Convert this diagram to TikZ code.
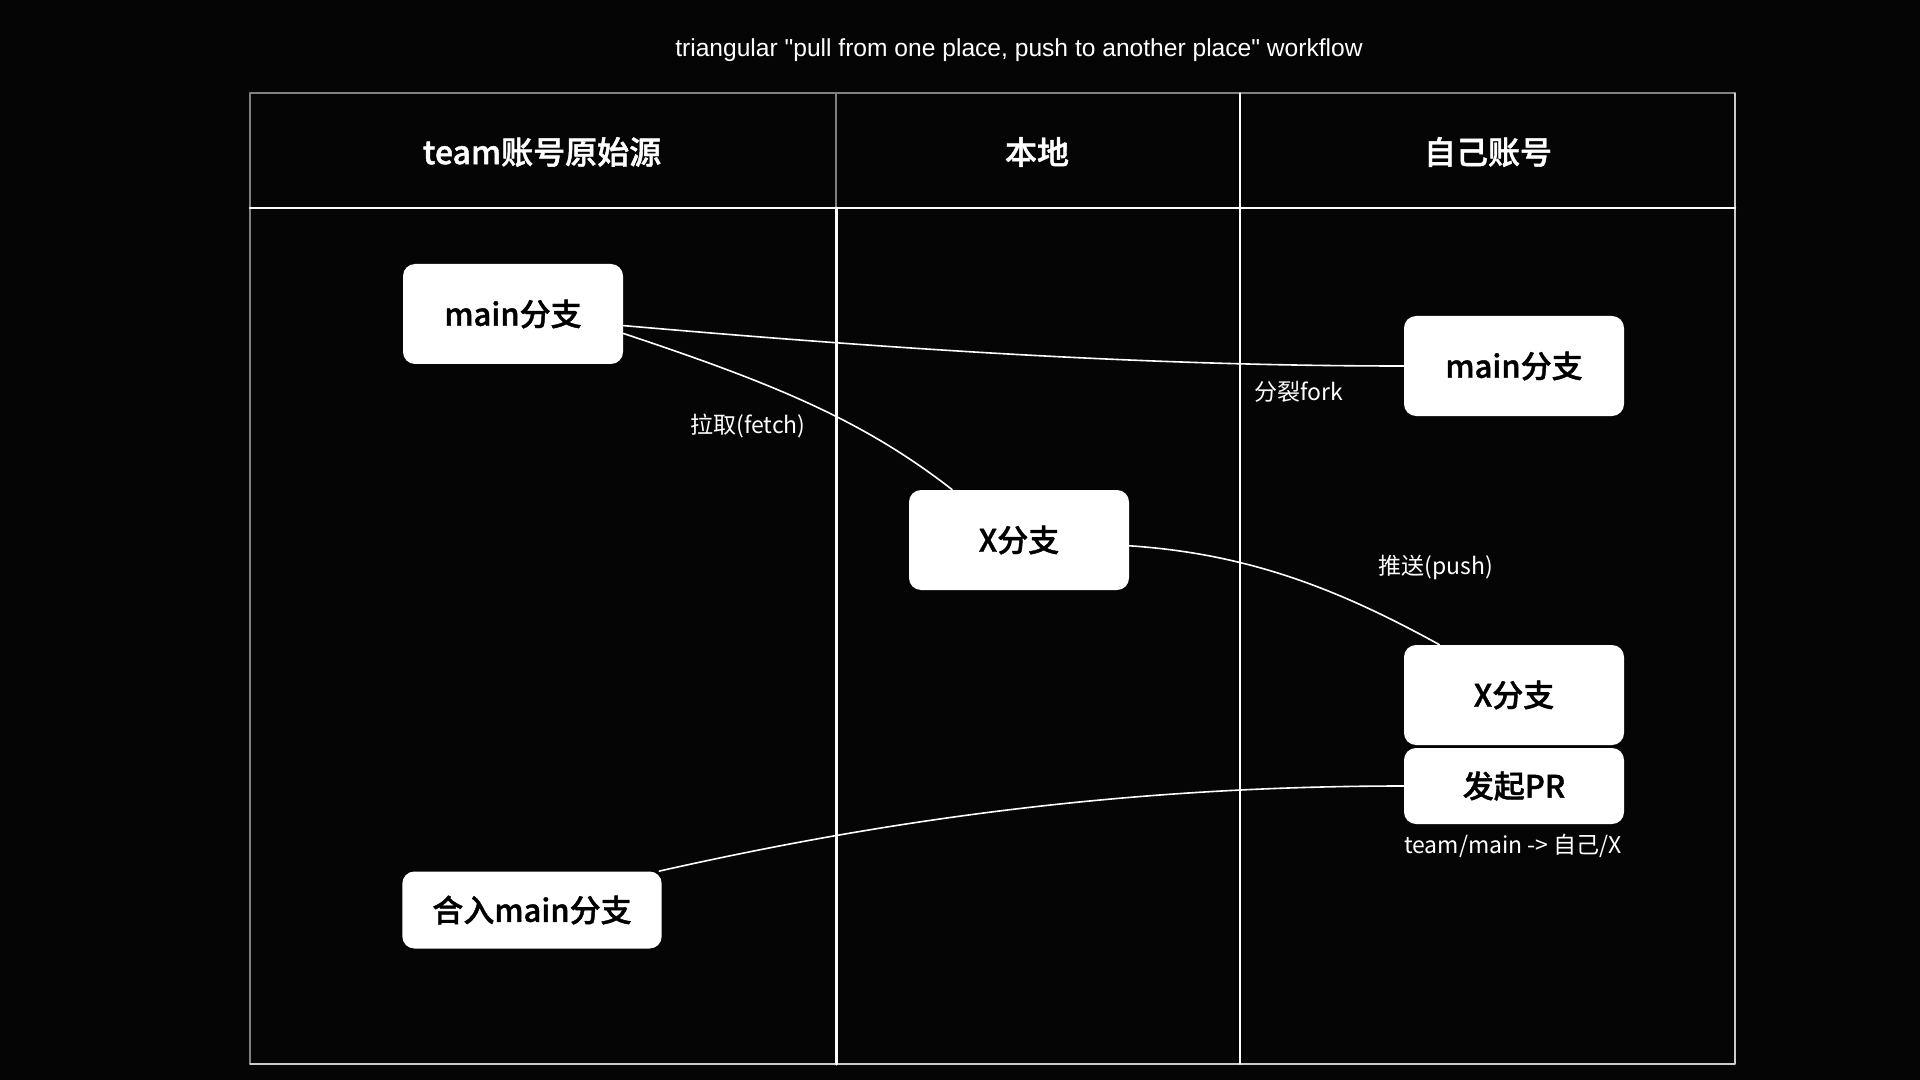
\documentclass[tikz,border=0pt]{standalone}
\usepackage{fontspec}
\setmainfont{Noto Sans CJK SC}
\newfontfamily\boxfont{Noto Sans CJK SC}[UprightFont={* Medium}, UprightFeatures={FakeBold=1.3}]
\newfontfamily\titlefont{Liberation Sans}
\usetikzlibrary{positioning}
\definecolor{FlowPaper}{gray}{0.02}
\definecolor{FlowInk}{gray}{1}
\definecolor{FlowFrame}{gray}{0.5}
\definecolor{FlowEdge}{gray}{0.8}
\tikzset{
    flow/diagram/.style={
        x=0.5pt, y=-0.5pt,
        line cap=round,
        line join=round,
        every node/.style={inner sep=2pt}
    },
    flow/frame/.style={draw=FlowFrame, line width=0.6pt},
    flow/edge/.style={draw=FlowEdge, line width=0.7pt},
    flow/rule/.style={draw=FlowInk, line width=1.3pt},
    flow/lane/.style={draw=FlowInk, line width=0.6pt},
    flow/mainlane/.style={draw=FlowInk, line width=1.5pt},
    flow/head/.style={text=FlowInk, font=\boxfont\fontsize{16}{19}\selectfont},
    flow/branch/.style={
        fill=FlowInk, text=black, rounded corners=6pt,
        minimum width=110pt, minimum height=50pt, inner xsep=15pt,
        font=\boxfont\fontsize{15.5}{19}\selectfont
    },
    flow/link/.style={draw=FlowInk, line width=0.8pt},
    flow/label/.style={text=FlowInk, font=\fontsize{11.5}{14}\selectfont}
}

\begin{document}
\begin{tikzpicture}[flow/diagram]
    \fill[FlowPaper] (0,0) rectangle (1920,1080);
    \useasboundingbox (0,0) rectangle (1920,1080);
    \node[text=FlowInk, font=\titlefont\fontsize{12.3}{14}\selectfont] (title) at (1019,50)
        {triangular "pull from one place, push to another place" workflow};
    % swimlane table
    \draw[flow/frame] (250,1064) -- (250,93) -- (1735,93);
    \draw[flow/edge] (1735,93) -- (1735,1064) -- (250,1064);
    \draw[flow/frame] (836,93) -- (836,208);
    \draw[flow/mainlane] (836,208) -- (836,1064);
    \draw[flow/lane] (1240,93) -- (1240,1064);
    \draw[flow/rule] (250,208) -- (1735,208);
    \node[flow/head] (teamhead) at (542,152) {team账号原始源};
    \node[flow/head] (localhead) at (1037,152) {本地};
    \node[flow/head] (selfhead) at (1488,152) {自己账号};
    % branches
    \node[flow/branch] (mainL) at (513,314) {main分支};
    \node[flow/branch] (mainR) at (1514,366) {main分支};
    \node[flow/branch] (Xmid) at (1019,540) {X分支};
    \node[flow/branch] (Xright) at (1514,695) {X分支};
    \node[flow/branch, minimum height=38pt] (PR) at (1514,786) {发起PR};
    \node[flow/branch, minimum height=38.5pt] (merge) at (532,910) {合入main分支};
    % links
    \draw[flow/link] (mainL.-6) .. controls +(277,24) and +(-253,0) .. (mainR.west);
    \draw[flow/link] (mainL.-10) .. controls +(150,50) and +(-90,-70) .. (Xmid.143);
    \draw[flow/link] (Xmid.-3) .. controls +(120,8) and +(-100,-55) .. (Xright.146);
    \draw[flow/link] (PR.west) .. controls +(-300,0) and +(200,-45) .. (merge.17);
    \node[flow/label] (fetch) at (748,426) {拉取(fetch)};
    \node[flow/label] (fork) at (1299,392) {分裂fork};
    \node[flow/label] (push) at (1436,567) {推送(push)};
    \node[flow/label] (prnote) at (1513,846) {team/main -> 自己/X};
\end{tikzpicture}
\end{document}
